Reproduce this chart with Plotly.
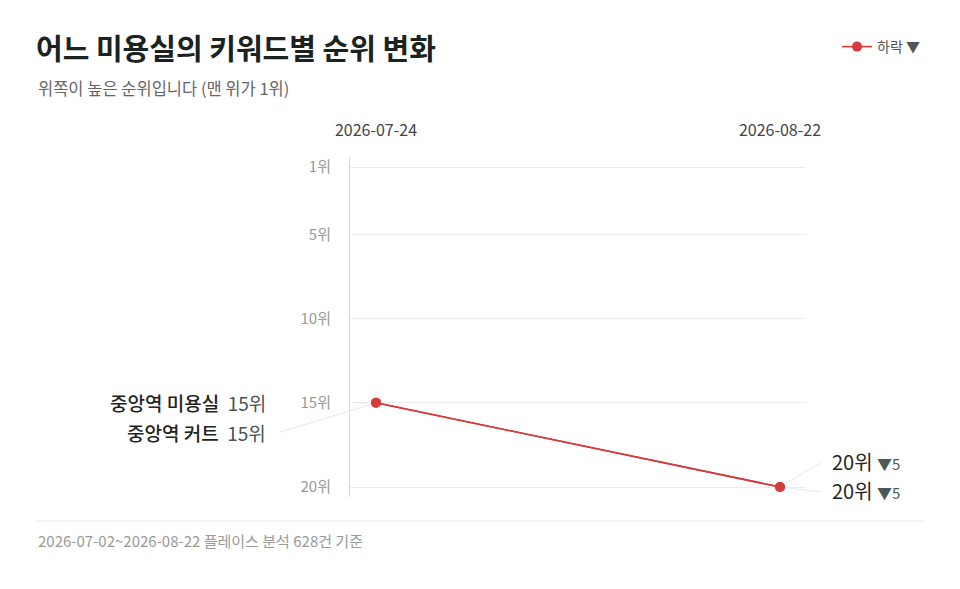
import plotly.graph_objects as go

# ---- data ----
dates = ["2026-07-24", "2026-08-22"]
keywords = ["중앙역 미용실", "중앙역 커트"]
ranks = {
    "중앙역 미용실": [15, 20],
    "중앙역 커트": [15, 20],
}
rank_ticks = [1, 5, 10, 15, 20]
rank_tick_text = ["1위", "5위", "10위", "15위", "20위"]
legend_name = "하락 ▼"
title_text = "어느 미용실의 키워드별 순위 변화"
subtitle_text = "위쪽이 높은 순위입니다 (맨 위가 1위)"
footer_text = "2026-07-02~2026-08-22 플레이스 분석 628건 기준"

# ---- layout geometry (pixels) ----
W, H = 960, 589
PL, PR, PT, PB = 350, 806, 157, 497
FONT = "Noto Sans CJK KR"
RED = "#d63a3a"


def px_x(px):
    return (px - PL) / (PR - PL)


def px_y(py):
    return (PB - py) / (PB - PT)


fig = go.Figure()
for i, kw in enumerate(keywords):
    fig.add_trace(go.Scatter(
        x=dates, y=ranks[kw], mode="lines+markers",
        name=legend_name, showlegend=(i == 0),
        line=dict(color=RED, width=1.6),
        marker=dict(color=RED, size=10),
        hoverinfo="skip",
    ))

annotations = []
# left labels (start values)
left_offsets = [(0, -24), (30, -98)]
for i, kw in enumerate(keywords):
    v0 = ranks[kw][0]
    dy, tail = left_offsets[i]
    annotations.append(dict(
        x=dates[0], y=v0, xref="x", yref="y", showarrow=False,
        xanchor="right", yanchor="middle", xshift=-108, yshift=-dy,
        text=(f"<span style='color:#1f2421;font-weight:500'>{kw}</span>&nbsp; "
              f"<span style='color:#4a5452;font-weight:400'>{v0}위</span>"),
        font=dict(family=FONT, size=19, color="#1f2421"),
    ))
    annotations.append(dict(
        x=dates[0], y=v0, xref="x", yref="y", showarrow=True, text="",
        ax=tail, ay=dy, arrowhead=0, arrowwidth=1, arrowcolor="#e6e9e8",
        standoff=6,
    ))

# right labels (end values)
right_offsets = [(-26, -25), (3, 5)]
for i, kw in enumerate(keywords):
    v0, v1 = ranks[kw]
    dy, ay = right_offsets[i]
    annotations.append(dict(
        x=dates[1], y=v1, xref="x", yref="y", showarrow=False,
        xanchor="left", yanchor="middle", xshift=50, yshift=-dy,
        text=f"{v1}위 <span style='font-size:15px;color:#4a5a55'>▼{v1 - v0}</span>",
        font=dict(family=FONT, size=20, color="#1f2623"),
    ))
    annotations.append(dict(
        x=dates[1], y=v1, xref="x", yref="y", showarrow=True, text="",
        ax=42, ay=ay, arrowhead=0, arrowwidth=1, arrowcolor="#e6e9e8",
        standoff=6,
    ))

# subtitle
annotations.append(dict(
    x=px_x(36), y=px_y(88), xref="paper", yref="paper", showarrow=False,
    xanchor="left", yanchor="middle", text=subtitle_text,
    font=dict(family=FONT, size=16.5, color="#666"),
))
# footer
annotations.append(dict(
    x=px_x(36), y=px_y(540), xref="paper", yref="paper", showarrow=False,
    xanchor="left", yanchor="middle", text=footer_text,
    font=dict(family=FONT, size=15, color="#999"),
))

fig.update_layout(
    width=W, height=H,
    margin=dict(l=PL, r=W - PR, t=PT, b=H - PB, pad=0),
    paper_bgcolor="white", plot_bgcolor="white",
    font=dict(family=FONT, color="#333"),
    title=dict(
        text=f"<b>{title_text}</b>", x=36 / W, xref="container", xanchor="left",
        y=1 - 50 / H, yref="container", yanchor="middle",
        font=dict(family=FONT, size=29, color="#1a2320"),
    ),
    showlegend=True,
    legend=dict(
        x=px_x(925), y=px_y(47), xanchor="right", yanchor="middle",
        orientation="h", font=dict(family=FONT, size=14, color="#555"),
        bgcolor="rgba(0,0,0,0)", itemwidth=30,
    ),
    xaxis=dict(
        type="category", side="top", range=[-26 / 404, 1 + 26 / 404],
        showgrid=False, zeroline=False, showline=False, ticks="",
        ticklabelstandoff=17,
        tickfont=dict(family=FONT, size=16, color="#444"),
        fixedrange=True,
    ),
    yaxis=dict(
        range=[20 + 10 / 16.84, 1 - 10 / 16.84],
        tickvals=rank_ticks, ticktext=rank_tick_text,
        showgrid=True, gridcolor="#ececec", gridwidth=1,
        zeroline=False, showline=True, linecolor="#cfdcda", linewidth=1,
        ticks="", ticklabelstandoff=15,
        tickfont=dict(family=FONT, size=15, color="#999"),
        fixedrange=True,
    ),
    annotations=annotations,
    shapes=[dict(
        type="line", xref="paper", yref="paper",
        x0=px_x(36), x1=px_x(925), y0=px_y(521), y1=px_y(521),
        line=dict(color="#e8e8e8", width=1),
    )],
)

fig.write_html(
    "out.html",
    config={"displayModeBar": False},
    post_script="document.body.style.margin='0';document.body.style.padding='0';",
)
